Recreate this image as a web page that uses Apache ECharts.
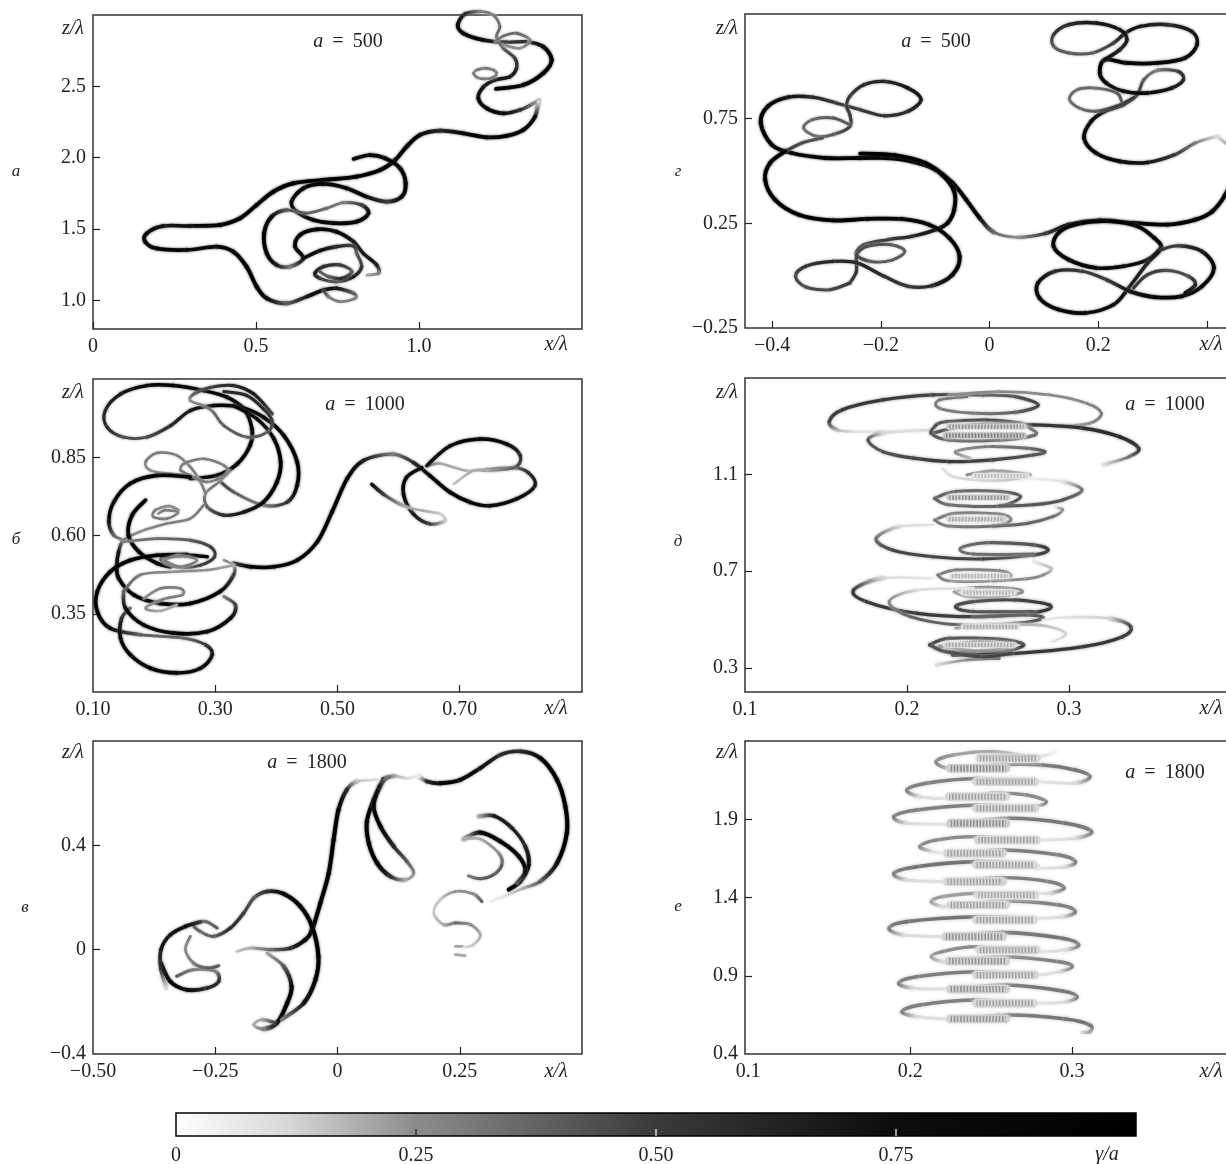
<!DOCTYPE html>
<html><head><meta charset="utf-8">
<style>html,body{margin:0;padding:0;background:#fff}#c{width:1226px;height:1164px}</style>
<script src="https://cdn.jsdelivr.net/npm/echarts@6/dist/echarts.min.js"></script>
</head><body><div id="c"></div>
<script>
// ---- tick values ----
const ticksA = {x:[0,0.5,1.0], xShown:[0,0.5,1.0], z:[1.0,1.5,2.0,2.5], zShown:[1.0,1.5,2.0,2.5]};
const ticksG = {x:[-0.4,-0.2,0,0.2,0.4], xShown:[-0.4,-0.2,0,0.2], z:[0.25,0.75], zShown:[-0.25,0.25,0.75]};
const ticksB = {x:[0.3,0.5,0.7], xShown:[0.1,0.3,0.5,0.7], z:[0.35,0.6,0.85], zShown:[0.35,0.6,0.85]};
const ticksD = {x:[0.2,0.3], xShown:[0.1,0.2,0.3], z:[0.3,0.7,1.1], zShown:[0.3,0.7,1.1]};
const ticksV = {x:[-0.25,0,0.25], xShown:[-0.5,-0.25,0,0.25], z:[0,0.4], zShown:[-0.4,0,0.4]};
const ticksE = {x:[0.2,0.3], xShown:[0.1,0.2,0.3], z:[0.9,1.4,1.9], zShown:[0.4,0.9,1.4,1.9]};
const barTicks = [0,0.25,0.5,0.75];
const barStops = [0,0.12,0.25,0.5,0.75,1];
const barGrays = [255,214,140,58,12,0];

// ---- panel а : [x/λ, z/λ, γ/a] ----
const a1=[[1.236,2.482,.9],[1.320,2.510,.9],[1.381,2.592,1],[1.407,2.685,1],[1.381,2.778,.8],[1.330,2.813,.6],[1.269,2.809,.5],[1.197,2.825,.8],[1.136,2.872,.9],[1.119,2.930,.9],[1.141,3.007,.6],[1.187,3.024,.3],[1.228,3.0,.3],[1.248,2.919,.35],[1.238,2.849,.35],[1.259,2.767,.4],[1.294,2.697,.5],[1.299,2.627,.6],[1.279,2.568,.7],[1.233,2.545,.7],[1.197,2.494,.7],[1.182,2.417,.8],[1.208,2.346,.9],[1.259,2.311,.8],[1.310,2.335,.6],[1.351,2.381,.3],[1.371,2.410,.1]];
const a2=[[1.366,2.393,.1],[1.356,2.288,.8],[1.320,2.195,.9],[1.269,2.153,.95],[1.208,2.143,.9],[1.136,2.171,.9],[1.064,2.190,.6],[1.003,2.160,.9],[.962,2.078,1],[.927,1.984,1],[.881,1.914,1],[.809,1.868,1],[.707,1.844,1],[.615,1.821,1],[.553,1.762,1],[.502,1.669,1],[.451,1.576,1],[.390,1.529,.9],[.298,1.522,.8],[.216,1.522,.7],[.165,1.470,.9],[.160,1.412,.9],[.195,1.365,.9],[.287,1.354,.8],[.379,1.377,.8],[.430,1.342,.9],[.471,1.237,1],[.502,1.097,1],[.533,1.015,.9],[.594,.980,.4],[.656,1.027,.7],[.707,1.073,.8],[.747,1.085,.7],[.799,1.050,.4],[.804,1.015,.3],[.758,.992,.3],[.722,1.027,.3],[.707,1.073,.5]];
const a3=[[.799,1.991,.8],[.850,2.019,.8],[.896,1.996,.9],[.942,1.926,.9],[.959,1.821,1],[.947,1.727,.9],[.901,1.692,.5],[.839,1.727,.8],[.778,1.786,.9],[.707,1.816,.9],[.645,1.786,.9],[.609,1.692,.8],[.625,1.622,.8],[.676,1.564,.9],[.737,1.541,.9],[.809,1.552,.9],[.845,1.611,.8],[.824,1.669,.5],[.768,1.685,.3],[.717,1.646,.35],[.655,1.611,.4],[.594,1.634,.4],[.548,1.587,.8],[.525,1.470,1],[.533,1.330,1],[.563,1.249,.7],[.604,1.237,.3],[.645,1.295,.8],[.620,1.377,.9],[.635,1.459,.9],[.686,1.498,.9],[.747,1.482,.9],[.799,1.412,.7],[.829,1.330,.7],[.870,1.249,.7],[.875,1.190,.3],[.840,1.178,.2]];
const a4=[[.645,1.295,.8],[.696,1.349,.8],[.747,1.377,.6],[.799,1.382,.5],[.809,1.330,.4],[.824,1.237,.5],[.799,1.167,.7],[.747,1.132,.4],[.696,1.155,.5],[.681,1.190,.7],[.707,1.237,.6],[.758,1.249,.5],[.794,1.202,.4],[.763,1.155,.6],[.722,1.167,.4],[.696,1.202,.4]];
const a5=[[1.233,2.813,.3],[1.259,2.853,.35],[1.299,2.872,.35],[1.340,2.825,.3],[1.310,2.767,.25],[1.259,2.790,.25]];
const a6=[[1.167,2.592,.3],[1.177,2.615,.3],[1.203,2.627,.3],[1.228,2.615,.3],[1.238,2.592,.3],[1.228,2.564,.3],[1.203,2.552,.3],[1.177,2.564,.3],[1.167,2.592,.3]];

// ---- panel г ----
const g1=[[.419,.666,.1],[.379,.634,.3],[.341,.578,.5],[.291,.541,.7],[.240,.546,.8],[.196,.586,.9],[.174,.658,.9],[.187,.737,.8],[.212,.785,.7],[.247,.817,.6],[.272,.865,.5],[.284,.936,.4],[.309,.981,.3],[.347,.976,.5],[.357,.936,.6],[.335,.896,.7],[.291,.873,.8],[.247,.881,.8],[.215,.920,.8],[.203,.968,.9],[.212,1.032,.9],[.253,1.016,.9],[.309,1.016,.9],[.360,1.040,.8],[.382,1.104,.8],[.372,1.167,.7],[.328,1.199,.6],[.278,1.191,.7],[.250,1.159,.7],[.228,1.111,.5],[.190,1.064,.4],[.146,1.064,.4],[.118,1.096,.4],[.118,1.151,.5],[.146,1.199,.6],[.196,1.207,.7],[.240,1.175,.7],[.253,1.127,.7],[.240,1.080,.6],[.212,1.032,.8]];
const g1b=[[.265,.849,.5],[.234,.809,.5],[.196,.785,.4],[.165,.801,.35],[.147,.844,.35],[.162,.889,.35],[.196,.896,.35],[.234,.873,.4],[.243,.833,.4]];
const g2=[[.419,.666,.1],[.451,.586,.3],[.448,.475,.8],[.434,.387,1],[.410,.307,1],[.379,.268,1],[.328,.244,.95],[.265,.252,.9],[.203,.264,.9],[.146,.244,.8],[.102,.201,.5],[.052,.183,.25],[.008,.207,.35],[-.018,.275,.9],[-.043,.363,1],[-.068,.443,1],[-.099,.506,1],[-.143,.546,1],[-.187,.562,1],[-.238,.562,.95],[-.301,.562,.9],[-.364,.586,.9],[-.401,.626,.9],[-.421,.729,1],[-.408,.809,.9],[-.370,.853,.7],[-.326,.853,.6],[-.282,.825,.5],[-.238,.793,.5],[-.194,.764,.55],[-.150,.785,.6],[-.126,.841,.7],[-.150,.896,.7],[-.194,.928,.6],[-.231,.912,.6],[-.257,.857,.5],[-.263,.809,.5],[-.257,.769,.5],[-.257,.713,.5],[-.288,.674,.4],[-.319,.666,.35],[-.342,.705,.35],[-.326,.745,.35],[-.288,.753,.4],[-.257,.721,.4]];
const g3b=[[-.376,.594,.5],[-.345,.634,.45],[-.307,.658,.4]];
const g4=[[-.238,.583,1],[-.175,.575,1],[-.118,.538,1],[-.087,.482,1],[-.065,.403,1],[-.065,.315,1],[-.077,.252,.9],[-.099,.220,.7],[-.143,.188,.6],[-.187,.172,.5],[-.231,.148,.45],[-.245,.100,.5],[-.219,.068,.4],[-.181,.073,.4],[-.156,.116,.4],[-.181,.148,.4],[-.225,.140,.45],[-.244,.100,.45],[-.245,.021,.55],[-.257,-.035,.5]];
const g5=[[-.376,.594,.9],[-.404,.538,1],[-.413,.459,1],[-.395,.363,1],[-.351,.291,1],[-.288,.264,.95],[-.225,.271,.9],[-.162,.271,.9],[-.112,.244,.9],[-.074,.180,.9],[-.055,.092,1],[-.068,.005,.9],[-.106,-.048,.6],[-.150,-.051,.5],[-.194,-.003,.6],[-.244,.061,.6],[-.288,.068,.6],[-.338,.045,.55],[-.357,-.003,.45],[-.338,-.054,.45],[-.294,-.067,.45],[-.257,-.035,.5]];
const g6=[[.316,.132,.9],[.291,.076,.8],[.247,.045,.8],[.196,.037,.8],[.146,.076,.9],[.118,.140,.9],[.130,.212,.9],[.171,.252,.9],[.221,.260,.9],[.272,.236,.9],[.303,.180,.9],[.316,.132,.8],[.291,.061,.6],[.256,-.059,.7],[.228,-.139,.8],[.177,-.178,.8],[.127,-.162,.9],[.092,-.107,.9],[.089,-.035,.8],[.121,.021,.6],[.171,.021,.5],[.215,-.019,.5],[.259,-.075,.7],[.303,-.102,.9],[.353,-.099,.9],[.391,-.051,.9],[.413,.037,.9],[.391,.116,.7],[.347,.143,.5],[.316,.124,.5]];
const g7=[[.265,-.059,.5],[.291,.005,.5],[.328,.025,.45],[.366,-.003,.45],[.379,-.043,.6],[.360,-.083,.8]];

// ---- panel б ----
const b0=[[.330,.511,.5],[.358,.500,.95],[.396,.500,.95],[.434,.521,.95],[.467,.580,.95],[.491,.675,1],[.516,.782,.95],[.543,.840,.7],[.591,.860,.3],[.624,.833,.6],[.651,.791,.9],[.684,.738,.95],[.717,.706,.9],[.749,.695,.8],[.793,.717,.8],[.823,.759,.7],[.812,.801,.6],[.788,.817,.35],[.744,.812,.25],[.711,.807,.2],[.668,.830,.2],[.649,.823,.3]];
const b0b=[[.646,.823,.7],[.684,.886,.85],[.733,.908,.9],[.777,.892,.85],[.799,.855,.6],[.790,.817,.4],[.744,.807,.2],[.722,.807,.2],[.690,.764,.15]];
const b0c=[[.638,.817,.8],[.613,.786,.85],[.608,.732,.9],[.624,.669,.7],[.651,.637,.5],[.676,.647,.15],[.668,.669,.15],[.640,.679,.2],[.608,.695,.2],[.575,.732,.5],[.556,.764,.8]];
const b1=[[.259,.782,.9],[.303,.792,.9],[.336,.829,.95],[.357,.888,1],[.360,.941,.9],[.347,1.004,.85],[.319,1.042,.9],[.281,1.063,.85],[.232,1.079,.85],[.188,1.079,.85],[.145,1.052,.7],[.120,.999,.6],[.123,.946,.6],[.150,.914,.45],[.188,.914,.45],[.227,.951,.6],[.259,.999,.7],[.297,1.015,.85],[.341,1.010,.9],[.379,.978,.9],[.412,.920,.9],[.434,.835,1],[.434,.760,.9],[.418,.707,.6],[.379,.697,.3],[.330,.739,.4],[.303,.782,.5]];
const b2=[[.330,1.015,.8],[.368,.973,.8],[.396,.909,.9],[.407,.835,1],[.401,.771,1],[.379,.707,.9],[.347,.675,.7],[.314,.665,.6],[.287,.691,.4],[.284,.734,.3],[.306,.771,.3],[.325,.808,.35]];
const b3=[[.393,.989,.5],[.363,1.052,.7],[.330,1.079,.6],[.292,1.073,.5],[.265,1.052,.4],[.259,1.031,.25],[.281,1.015,.3],[.297,.994,.35],[.314,.951,.4],[.352,.914,.4],[.385,.930,.4],[.393,.967,.5],[.379,1.004,.6],[.352,1.047,.6],[.314,1.060,.6]];
const b4=[[.259,.792,.3],[.227,.797,.25],[.194,.808,.25],[.186,.835,.3],[.205,.864,.3],[.237,.856,.3],[.259,.819,.3],[.276,.771,.3],[.284,.734,.3]];
const b4b=[[.243,.808,.3],[.248,.829,.3],[.281,.845,.3],[.314,.824,.3],[.319,.797,.3],[.287,.771,.3],[.259,.792,.3],[.243,.808,.3]];
const b5=[[.259,.787,.8],[.205,.792,.9],[.161,.766,.95],[.134,.707,.9],[.126,.644,.8],[.134,.601,.4],[.150,.585,.25]];
const b6=[[.281,.697,.3],[.259,.654,.3],[.221,.638,.3],[.177,.612,.25],[.150,.585,.3],[.142,.548,.7],[.139,.505,.9],[.142,.463,.95],[.167,.410,.95],[.210,.383,1],[.259,.383,1],[.308,.421,.9],[.330,.474,.5],[.330,.505,.25],[.314,.521,.25]];
const b6s=[[.240,.681,.3],[.224,.694,.25],[.202,.681,.3],[.199,.659,.3],[.221,.654,.3],[.239,.673,.3],[.218,.681,.3],[.207,.670,.25]];
const b7=[[.186,.713,.9],[.164,.665,1],[.158,.601,1],[.175,.548,1],[.205,.511,1],[.227,.500,.9]];
const b8=[[.150,.580,.3],[.205,.590,.35],[.259,.585,.4],[.292,.564,.5],[.299,.532,.5],[.276,.505,.5],[.243,.497,.35],[.218,.511,.35],[.213,.529,.4],[.254,.537,.8],[.287,.532,.8]];
const b9=[[.254,.539,.9],[.205,.537,.95],[.161,.521,1],[.128,.484,1],[.107,.421,1],[.107,.357,1],[.128,.304,.8],[.177,.283,.4],[.248,.272,.35],[.284,.251,.5],[.295,.219,.7],[.276,.176,.9],[.237,.161,.9],[.194,.176,.95],[.161,.219,.95],[.145,.272,.9],[.147,.336,.6],[.161,.368,.35]];
const b10=[[.150,.421,.4],[.153,.368,.8],[.183,.314,.95],[.232,.288,.95],[.287,.293,.9],[.325,.336,.85],[.333,.378,.5],[.314,.405,.3]];
const b11=[[.150,.421,.4],[.177,.474,.3],[.232,.484,.25],[.287,.490,.25],[.330,.505,.2]];
const b12=[[.183,.399,.25],[.210,.431,.3],[.243,.431,.3],[.246,.410,.3],[.216,.397,.3],[.186,.368,.25],[.210,.359,.2],[.237,.378,.2]];
const b13=[[.216,.521,.3],[.240,.537,.3],[.270,.521,.3],[.243,.500,.3],[.216,.521,.3]];

// ---- panel в ----
const v1=[[.166,.664,.05],[.183,.645,.6],[.210,.638,.85],[.251,.651,.85],[.292,.696,.75],[.333,.747,.6],[.374,.760,.6],[.415,.734,.9],[.449,.651,1],[.466,.549,1],[.469,.447,1],[.449,.332,.9],[.415,.262,.4],[.381,.236,.2],[.340,.204,.08],[.313,.185,.05]];
const v2=[[.166,.666,.05],[.142,.657,.1],[.115,.666,.2],[.094,.654,.7]];
const v3=[[.094,.654,.7],[.074,.574,.95],[.060,.491,.9],[.064,.408,1],[.081,.332,1],[.108,.281,.6],[.139,.268,.2],[.156,.294,.25],[.142,.338,.4],[.115,.396,.6],[.088,.472,.95],[.074,.549,.9],[.086,.626,.7],[.101,.661,.3]];
const v4=[[.081,.651,.1],[.040,.645,.15],[.019,.613,.6],[.002,.536,.95],[-.008,.421,1],[-.018,.293,1],[-.035,.179,1],[-.052,.076,1],[-.066,.038,.85],[-.096,.006,.6],[-.137,0,.35],[-.178,.006,.2],[-.206,-.007,.15]];
const v5=[[-.144,-.013,.2],[-.110,-.064,.4],[-.094,-.141,.9],[-.103,-.205,1],[-.124,-.281,1],[-.151,-.304,.3],[-.171,-.288,.2],[-.154,-.268,.2],[-.127,-.281,.5]];
const v6=[[-.114,-.268,.3],[-.069,-.205,.7],[-.045,-.115,1],[-.039,-.026,1],[-.052,.089,1],[-.076,.166,.95],[-.110,.214,.85],[-.144,.223,.6],[-.171,.198,.4],[-.192,.140,.5],[-.219,.083,.6],[-.253,.051,.4],[-.281,.070,.35],[-.294,.096,.4],[-.270,.108,.35],[-.246,.083,.4]];
const v7=[[-.350,-.147,.1],[-.361,-.077,.5],[-.361,0,.7],[-.342,.057,.7],[-.311,.089,.8],[-.281,.106,.5]];
const v8=[[-.361,-.051,.6],[-.342,-.122,.9],[-.308,-.154,.85],[-.267,-.147,.6],[-.243,-.122,.6],[-.250,-.083,.3],[-.295,-.077,.3],[-.329,-.102,.4]];
const v9=[[-.301,.051,.3],[-.311,0,.25],[-.295,-.051,.3],[-.267,-.070,.4],[-.243,-.062,.4]];
const v10=[[.289,.511,.2],[.320,.513,.7],[.357,.466,.65],[.384,.396,.6],[.391,.325,.85],[.374,.262,.85],[.350,.230,.9]];
const v11=[[.258,.424,.2],[.292,.449,.9],[.333,.415,.95],[.371,.357,.9],[.384,.300,.8],[.367,.255,.4]];
const v12=[[.258,.424,.2],[.292,.424,.2],[.330,.370,.25],[.336,.325,.4],[.319,.287,.4],[.292,.272,.4],[.268,.283,.3]];
const v13=[[.295,.185,.4],[.278,.214,.25],[.241,.223,.25],[.210,.191,.15],[.197,.140,.15],[.217,.096,.2],[.241,.102,.35],[.272,.096,.25],[.292,.057,.2],[.278,.019,.15],[.261,.010,.1]];
const v14=[[.241,.013,.2],[.255,.013,.2]];
const v15=[[.241,-.019,.2],[.261,-.023,.2]];

// ---- panel д ----
const d1=[[.168,1.278,.1],[.157,1.285,.2],[.152,1.319,.55],[.160,1.368,.6],[.185,1.409,.6],[.216,1.430,.55],[.247,1.430,.5],[.267,1.423,.5],[.281,1.388,.55],[.267,1.358,.45],[.241,1.354,.35],[.220,1.375,.35],[.220,1.409,.35],[.237,1.423,.4]];
const d1b=[[.168,1.278,.1],[.185,1.278,.1],[.214,1.285,.12]];
const d2=[[.226,1.430,.3],[.257,1.444,.3],[.288,1.430,.3],[.311,1.395,.3],[.320,1.354,.35],[.313,1.313,.3],[.294,1.299,.15]];
const d3=[[.214,1.285,.12],[.185,1.271,.12],[.176,1.243,.5],[.185,1.195,.5],[.204,1.168,.55],[.226,1.154,.6],[.253,1.161,.55],[.278,1.181,.5],[.285,1.195,.5],[.274,1.209,.4],[.249,1.216,.35],[.230,1.195,.3],[.239,1.168,.2]];
const d4=[[.215,1.271,.5],[.241,1.306,.6],[.278,1.306,.6],[.309,1.292,.65],[.331,1.257,.7],[.343,1.209,.6],[.337,1.174,.4],[.321,1.140,.1]];
const d4b=[[.218,1.306,.5],[.224,1.319,.5],[.249,1.326,.55],[.270,1.313,.45],[.276,1.292,.35],[.279,1.264,.4],[.257,1.243,.45],[.226,1.243,.45],[.215,1.271,.5],[.218,1.306,.5]];
const d5=[[.222,1.126,.1],[.228,1.092,.12],[.243,1.078,.15],[.261,1.078,.2],[.276,1.099,.3],[.253,1.115,.3],[.237,1.099,.3]];
const d6=[[.217,1.002,.45],[.230,1.030,.45],[.257,1.030,.45],[.270,1.009,.5],[.257,.970,.45],[.226,.975,.4],[.217,1.002,.45]];
const d6b=[[.257,.970,.45],[.278,.975,.5],[.296,.995,.5],[.308,1.036,.4],[.296,1.071,.1],[.274,1.085,.05]];
const d7=[[.217,.912,.35],[.230,.940,.35],[.257,.937,.35],[.264,.912,.35],[.253,.887,.4],[.226,.887,.35],[.217,.912,.35]];
const d7b=[[.253,.887,.4],[.274,.898,.45],[.290,.926,.4],[.296,.954,.3],[.292,.965,.1]];
const d8=[[.216,.892,.1],[.195,.885,.12],[.181,.836,.4],[.191,.788,.55],[.216,.760,.55],[.247,.751,.55],[.278,.767,.5],[.287,.788,.6],[.278,.809,.5],[.249,.818,.45],[.233,.795,.4],[.241,.771,.4],[.278,.771,.4]];
const d9=[[.219,.684,.35],[.230,.705,.35],[.257,.702,.35],[.264,.680,.35],[.253,.660,.3],[.226,.660,.3],[.219,.684,.35]];
const d9b=[[.253,.660,.3],[.274,.668,.3],[.284,.684,.3],[.289,.712,.2],[.278,.740,.08]];
const d10=[[.229,.615,.25],[.241,.633,.3],[.265,.629,.3],[.271,.613,.3],[.257,.595,.25],[.237,.595,.25],[.229,.615,.25]];
const d11=[[.216,.671,.08],[.185,.671,.12],[.167,.622,.6],[.175,.574,.6],[.206,.526,.6],[.247,.512,.55],[.282,.533,.6],[.288,.560,.6],[.267,.581,.55],[.241,.574,.5],[.230,.553,.55],[.241,.533,.5],[.278,.533,.5]];
const d12=[[.241,.629,.1],[.206,.622,.12],[.189,.574,.3],[.202,.512,.45],[.233,.477,.45],[.267,.484,.5],[.284,.505,.5],[.274,.519,.45],[.241,.512,.45]];
const d13=[[.230,.464,.25],[.249,.477,.25],[.282,.477,.2],[.298,.443,.15],[.290,.408,.08]];
const d14=[[.214,.395,.55],[.226,.422,.5],[.257,.418,.5],[.272,.395,.55],[.257,.367,.5],[.226,.367,.5],[.214,.395,.55]];
const d14b=[[.220,.390,.3],[.245,.408,.3],[.265,.388,.3],[.243,.371,.3],[.220,.390,.3]];
const d15=[[.228,.353,.55],[.267,.360,.6],[.309,.388,.6],[.333,.429,.6],[.338,.471,.55],[.325,.505,.15],[.298,.509,.1],[.284,.498,.08]];
const d16=[[.218,.312,.12],[.237,.333,.3],[.257,.339,.4]];
const d17=[[.216,.388,.5],[.224,.367,.5],[.247,.346,.55],[.265,.360,.55]];
// central bands of panel д: [x1, x2, z/λ, γ/a]
const bandsD=[[.226,.272,1.299,.3],[.224,.272,1.262,.35],[.242,.274,1.095,.2],[.226,.262,1.005,.3],[.226,.260,.915,.25],[.228,.262,.68,.22],[.235,.266,.612,.22],[.235,.268,.47,.25],[.224,.266,.395,.25]];

// ---- panel е ----
const e1=[[.290,2.332,.05],[.278,2.300,.15],[.251,2.332,.3],[.227,2.311,.3],[.216,2.268,.35],[.225,2.225,.25],[.251,2.247,.35],[.282,2.247,.4],[.302,2.215,.45],[.311,2.172,.4],[.302,2.130,.15],[.280,2.140,.1],[.277,2.140,.2],[.241,2.161,.4],[.210,2.130,.4],[.198,2.087,.4],[.206,2.044,.15],[.225,2.034,.1],[.251,2.066,.35],[.272,2.055,.35],[.284,2.012,.35],[.274,1.980,.15],[.241,1.991,.4],[.204,1.959,.4],[.190,1.917,.4],[.198,1.874,.15],[.224,1.868,.1]];
const e2=[[.224,1.868,.1],[.261,1.906,.4],[.296,1.874,.45],[.312,1.821,.4],[.302,1.778,.15],[.280,1.767,.1],[.278,1.767,.2],[.241,1.789,.35],[.216,1.767,.35],[.206,1.725,.35],[.214,1.693,.12],[.225,1.682,.1],[.257,1.704,.4],[.292,1.672,.4],[.302,1.629,.4],[.296,1.597,.15],[.278,1.586,.1],[.277,1.608,.2],[.241,1.629,.45],[.204,1.597,.45],[.190,1.554,.4],[.198,1.512,.15],[.223,1.501,.12]];
const e3=[[.223,1.501,.12],[.257,1.527,.4],[.286,1.501,.4],[.295,1.459,.4],[.286,1.427,.15],[.278,1.427,.1],[.241,1.427,.3],[.220,1.405,.3],[.213,1.373,.3],[.220,1.341,.15],[.225,1.348,.2],[.257,1.378,.35],[.292,1.352,.4],[.302,1.309,.4],[.294,1.277,.15],[.277,1.267,.1],[.241,1.277,.45],[.198,1.246,.45],[.187,1.203,.4],[.196,1.160,.15],[.222,1.150,.12]];
const e4=[[.222,1.150,.12],[.257,1.177,.4],[.294,1.139,.45],[.304,1.096,.4],[.296,1.065,.15],[.278,1.054,.1],[.241,1.086,.35],[.220,1.054,.35],[.213,1.022,.3],[.220,.990,.15],[.225,.994,.2],[.257,1.022,.35],[.292,.990,.4],[.300,.958,.4],[.292,.926,.15],[.277,.905,.1],[.241,.926,.4],[.204,.894,.4],[.193,.852,.4],[.202,.820,.15],[.225,.815,.12]];
const e5=[[.225,.815,.12],[.259,.841,.4],[.294,.803,.45],[.303,.766,.4],[.296,.734,.15],[.277,.724,.1],[.239,.745,.4],[.206,.713,.4],[.195,.670,.4],[.204,.639,.15],[.225,.624,.12],[.261,.649,.4],[.296,.624,.45],[.311,.585,.45],[.311,.543,.3],[.306,.538,.15]];
// central bands of panel е: [x1, x2, z/λ, γ/a]
const bandsE=[[.243,.278,2.289,.3],[.225,.259,2.225,.35],[.241,.277,2.140,.3],[.224,.259,2.044,.3],[.241,.277,1.970,.3],[.225,.259,1.874,.35],[.242,.278,1.767,.3],[.223,.257,1.682,.3],[.241,.276,1.608,.3],[.223,.257,1.501,.3],[.242,.277,1.416,.28],[.225,.259,1.352,.3],[.241,.276,1.256,.3],[.222,.257,1.150,.33],[.243,.278,1.065,.3],[.224,.259,.994,.33],[.241,.277,.905,.3],[.225,.259,.815,.33],[.241,.276,.724,.3],[.225,.259,.624,.33]];

// ---- chart ----
function gray(g){
  let i=0; while(i<barStops.length-2 && g>barStops[i+1]) i++;
  const t=(g-barStops[i])/(barStops[i+1]-barStops[i]);
  const v=Math.round(barGrays[i]+(barGrays[i+1]-barGrays[i])*t);
  return 'rgb('+v+','+v+','+v+')';
}
const SERIF='"Liberation Serif","Times New Roman",serif';
const series=[];
function addPath(idx,path,w,gain,blur,dash){
  gain=gain||1; blur=blur||2.5;
  series.push({type:'custom',xAxisIndex:idx,yAxisIndex:idx,silent:true,animation:false,
    data:path,encode:{x:0,y:1},
    renderItem(params,api){
      const i=params.dataIndex; if(i>=path.length-1) return null;
      const c=k=>api.coord(path[Math.max(0,Math.min(path.length-1,k))]);
      const p0=c(i-1),p1=c(i),p2=c(i+1),p3=c(i+2);
      const g1v=path[i][2]*gain,g2v=path[i+1][2]*gain;
      const col=new echarts.graphic.LinearGradient(p1[0],p1[1],p2[0]+0.01,p2[1]+0.01,[{offset:0,color:gray(g1v)},{offset:1,color:gray(g2v)}],true);
      const style={fill:null,stroke:col,lineWidth:w*(0.72+0.5*Math.max(path[i][2],path[i+1][2])),lineCap:dash?'butt':'round',
          shadowBlur:blur,shadowColor:gray(Math.max(g1v,g2v)*0.5)};
      if(dash) style.lineDash=dash;
      return {type:'bezierCurve',silent:true,
        shape:{x1:p1[0],y1:p1[1],x2:p2[0],y2:p2[1],
          cpx1:p1[0]+(p2[0]-p0[0])/6,cpy1:p1[1]+(p2[1]-p0[1])/6,
          cpx2:p2[0]-(p3[0]-p1[0])/6,cpy2:p2[1]-(p3[1]-p1[1])/6},
        style};
    }});
}
function addBand(idx,b,w,gain){
  const row=[[b[0],b[2],b[3]],[b[1],b[2],b[3]]];
  addPath(idx,row,w,gain*.55,4);
  addPath(idx,row,w*.7,gain,2,[1.6,1.6]);
}
[a1,a2,a3,a4,a5,a6].forEach(p=>addPath(0,p,3.2));
[g1,g1b,g2,g3b,g4,g5,g6,g7].forEach(p=>addPath(1,p,3.2));
[b0,b0b,b0c,b1,b2,b3,b4,b4b,b5,b6,b6s,b7,b8,b9,b10,b11,b12,b13].forEach(p=>addPath(2,p,3));
[d1,d1b,d2,d3,d4,d4b,d5,d6,d6b,d7,d7b,d8,d9,d9b,d10,d11,d12,d13,d14,d14b,d15,d16,d17].forEach(p=>addPath(3,p,3.2,.85,3));
bandsD.forEach(b=>addBand(3,b,7,.8));
[v1,v2,v3,v4,v5,v6,v7,v8,v9,v10,v11,v12,v13,v14,v15].forEach(p=>addPath(4,p,3.3));
[e1,e2,e3,e4,e5].forEach(p=>addPath(5,p,3.8,.72,3.5));
bandsE.forEach(b=>addBand(5,b,10,.7));

const tickStyle={color:'#222',width:1.2};
function xAx(idx,min,max,t,fmt){return {gridIndex:idx,type:'value',min,max,
  axisLine:{show:false,onZero:false},splitLine:{show:false},
  axisTick:{show:true,inside:true,length:7,customValues:t.x,lineStyle:tickStyle},
  axisLabel:{show:true,customValues:t.xShown,margin:8,fontFamily:SERIF,fontSize:20,color:'#222',hideOverlap:false,showMinLabel:true,showMaxLabel:true,
    formatter:fmt}};}
function yAx(idx,min,max,t,fmt){return {gridIndex:idx,type:'value',min,max,
  axisLine:{show:false,onZero:false},splitLine:{show:false},
  axisTick:{show:true,inside:true,length:7,customValues:t.z,lineStyle:tickStyle},
  axisLabel:{show:true,customValues:t.zShown,margin:7,padding:[4,0,0,0],fontFamily:SERIF,fontSize:20,color:'#222',hideOverlap:false,showMinLabel:true,showMaxLabel:true,
    formatter:fmt}};}
const f=n=>v=>{if(Math.abs(v)<1e-9) return '0'; return v.toFixed(n).replace('-','\u2212');};
const box={show:true,borderColor:'#333',borderWidth:1.5,backgroundColor:'transparent',outerBoundsMode:'none',containLabel:false};
const grids=[
 {left:93,top:15,width:489,height:314,...box},
 {left:745,top:14,width:489,height:314,...box},
 {left:93,top:379,width:489,height:313,...box},
 {left:745,top:378,width:486,height:314,...box},
 {left:93,top:741,width:489,height:313,...box},
 {left:745,top:741,width:489,height:313,...box},
 {left:176,top:1113,width:960,height:23,show:false,outerBoundsMode:'none'}
];
const xAxes=[
 xAx(0,0,1.5,ticksA,f(1)),xAx(1,-.45,.45,ticksG,f(1)),xAx(2,.1,.9,ticksB,f(2)),
 xAx(3,.1,.4,ticksD,f(1)),xAx(4,-.5,.5,ticksV,f(2)),xAx(5,.098,.4,ticksE,f(1)),
 {gridIndex:6,type:'value',min:0,max:1,axisLine:{show:false,onZero:false},splitLine:{show:false},axisTick:{show:false},
  axisLabel:{customValues:barTicks,margin:10,fontFamily:SERIF,fontSize:20,color:'#222',
    formatter:v=>v===0?'0':v.toFixed(2)}}
];
const yAxes=[
 yAx(0,.8,3,ticksA,f(1)),yAx(1,-.25,1.25,ticksG,f(2)),yAx(2,.1,1.1,ticksB,f(2)),
 yAx(3,.2,1.5,ticksD,f(1)),yAx(4,-.4,.8,ticksV,f(1)),yAx(5,.4,2.4,ticksE,f(1)),
 {gridIndex:6,type:'value',min:0,max:1,show:false}
];
// colour bar
series.push({type:'custom',xAxisIndex:6,yAxisIndex:6,silent:true,animation:false,data:[[0,1]],encode:{x:0,y:1},
  renderItem(p,api){
    const a=api.coord([0,1]),b=api.coord([1,0]);
    const stops=barStops.map((s,i)=>({offset:s,color:'rgb('+barGrays[i]+','+barGrays[i]+','+barGrays[i]+')'}));
    return {type:'rect',shape:{x:a[0],y:a[1],width:b[0]-a[0],height:b[1]-a[1]},
      style:{fill:new echarts.graphic.LinearGradient(0,0,1,0,stops),stroke:'#000',lineWidth:1.5}};
  }});
series.push({type:'custom',xAxisIndex:6,yAxisIndex:6,silent:true,animation:false,data:barTicks.slice(1).map(v=>[v,0]),encode:{x:0,y:1},
  renderItem(p,api){
    const v=api.value(0),q=api.coord([v,0]);
    return {type:'line',shape:{x1:q[0],y1:q[1],x2:q[0],y2:q[1]-7},style:{stroke:v<0.3?'#222':'#fff',lineWidth:1.2}};
  }});

function txt(x,y,text,extra){return {type:'text',x,y,silent:true,z:50,style:Object.assign({text,fontFamily:SERIF,fontSize:20,fill:'#222',align:'center',verticalAlign:'middle'},extra||{})};}
const it={fontStyle:'italic'};
function aLabel(x,y,v){return txt(x,y,'{i|a} \u2009=\u2009 '+v,{rich:{i:{fontStyle:'italic',fontFamily:SERIF,fontSize:20,fill:'#222'}}});}
const graphics=[
 txt(73,29,'z/\u03bb',it),txt(727,29,'z/\u03bb',it),txt(73,393,'z/\u03bb',it),txt(727,393,'z/\u03bb',it),txt(73,753,'z/\u03bb',it),txt(727,753,'z/\u03bb',it),
 txt(556,345,'x/\u03bb',it),txt(1211,345,'x/\u03bb',it),txt(556,709,'x/\u03bb',it),txt(1211,709,'x/\u03bb',it),txt(556,1072,'x/\u03bb',it),txt(1211,1072,'x/\u03bb',it),
 aLabel(348,42,500),aLabel(936,42,500),aLabel(365,405,1000),aLabel(1165,405,1000),aLabel(307,763,1800),aLabel(1165,773,1800),
 txt(16,172,'\u0430',{fontStyle:'italic',fontSize:17}),txt(678,172,'\u0433',{fontStyle:'italic',fontSize:17}),
 txt(16,540,'\u0431',{fontStyle:'italic',fontSize:17}),txt(678,542,'\u0434',{fontStyle:'italic',fontSize:17}),
 txt(25,908,'\u0432',{fontStyle:'italic',fontSize:17}),txt(678,907,'\u0435',{fontStyle:'italic',fontSize:17}),
 txt(1107,1155,'\u03b3/a',it)
];
const chart=echarts.init(document.getElementById('c'),null,{renderer:'canvas',width:1226,height:1164});
chart.setOption({animation:false,backgroundColor:'#fff',grid:grids,xAxis:xAxes,yAxis:yAxes,series,graphic:graphics});
</script></body></html>
